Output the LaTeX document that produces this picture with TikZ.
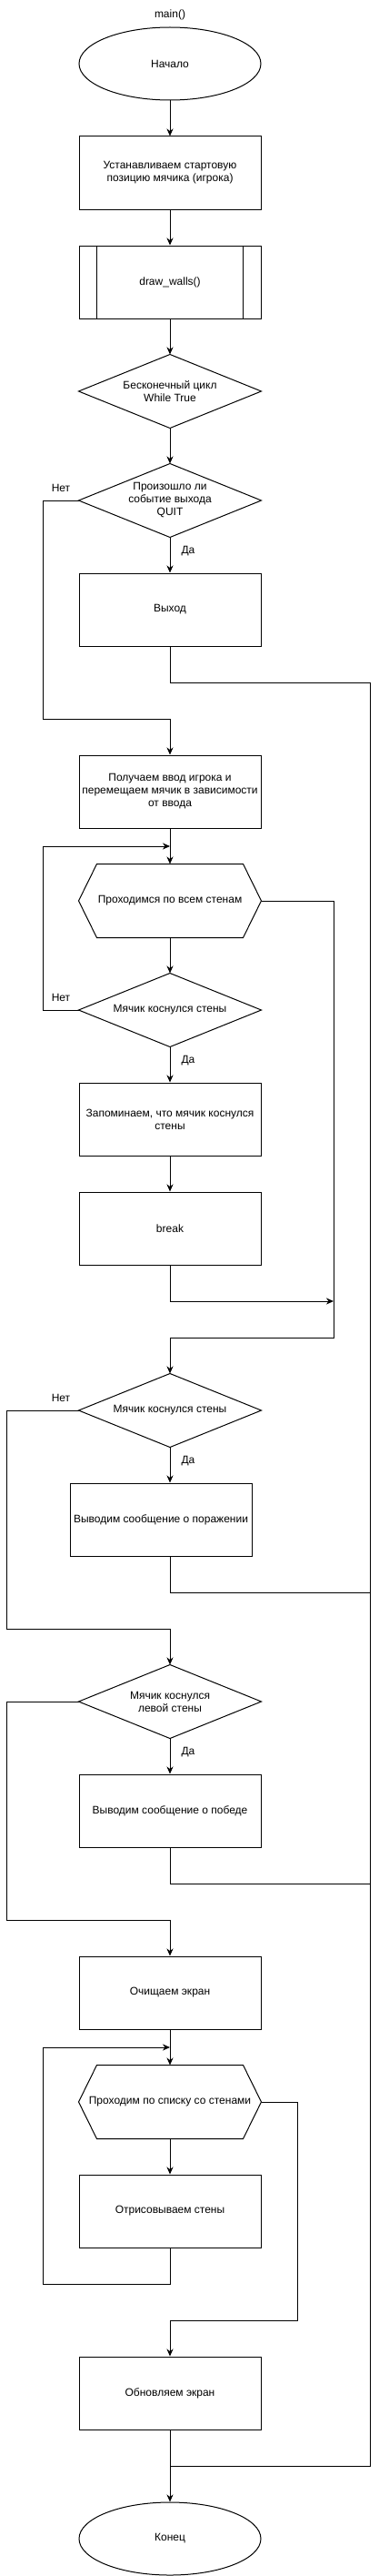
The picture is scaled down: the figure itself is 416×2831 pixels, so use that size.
\documentclass[tikz,border=0pt]{standalone}
\usepackage{fontspec}
\setmainfont{Liberation Sans}
\usetikzlibrary{shapes.geometric,arrows.meta}
\begin{document}
\begin{tikzpicture}[x=1pt,y=-1pt,line width=1pt,
  every node/.style={font=\fontsize{12}{14}\selectfont, align=center, inner sep=0pt},
  proc/.style={draw, rectangle, minimum width=200pt, minimum height=80pt},
  term/.style={draw, ellipse, minimum width=200pt, minimum height=80pt},
  shapebox/.style={rectangle, minimum width=200pt, minimum height=80pt},
  lbl/.style={font=\fontsize{12}{14}\selectfont},
  arr/.style={-{Stealth[length=8pt,width=7pt,inset=2.5pt]}}]
\useasboundingbox (0,0) rectangle (416,2831);

% nodes
\node (title) at (187,16) {main()};
\node[term] (start) at (187,70) {Начало};
\node[proc] (b1) at (187,190) {Устанавливаем стартовую\\позицию мячика (игрока)};
\node[proc] (dw) at (187,310) {draw\_walls()};
\node[shapebox] (d1) at (187,430) {Бесконечный цикл\\While True};
\node[shapebox] (d2) at (187,550) {Произошло ли\\событие выхода\\QUIT};
\node[proc] (exit) at (187,670) {Выход};
\node[proc] (b3) at (187,870) {Получаем ввод игрока и\\перемещаем мячик в зависимости\\от ввода};
\node[shapebox] (h1) at (187,990) {Проходимся по всем стенам};
\node[shapebox] (d3) at (187,1110) {Мячик коснулся стены};
\node[proc] (b4) at (187,1230) {Запоминаем, что мячик коснулся\\стены};
\node[proc] (brk) at (187,1350) {break};
\node[shapebox] (d4) at (187,1550) {Мячик коснулся стены};
\node[proc] (lose) at (177,1670) {Выводим сообщение о поражении};
\node[shapebox] (d5) at (187,1870) {Мячик коснулся\\левой стены};
\node[proc] (win) at (187,1990) {Выводим сообщение о победе};
\node[proc] (clr) at (187,2190) {Очищаем экран};
\node[shapebox] (h2) at (187,2310) {Проходим по списку со стенами};
\node[proc] (drw) at (187,2430) {Отрисовываем стены};
\node[proc] (upd) at (187,2630) {Обновляем экран};
\node[term] (end) at (187,2790) {Конец};

% shapes
\draw ([xshift=20pt]dw.north west) -- ([xshift=20pt]dw.south west);
\draw ([xshift=-20pt]dw.north east) -- ([xshift=-20pt]dw.south east);
\foreach \n in {d1,d2,d3,d4,d5}
  \draw (\n.north) -- (\n.east) -- (\n.south) -- (\n.west) -- cycle;
\foreach \n in {h1,h2}
  \draw (\n.west) -- ([xshift=20pt]\n.north west) -- ([xshift=-20pt]\n.north east)
        -- (\n.east) -- ([xshift=-20pt]\n.south east) -- ([xshift=20pt]\n.south west) -- cycle;

% labels
\node[lbl] (n1) at (67,536) {Нет};
\node[lbl] (n2) at (67,1096) {Нет};
\node[lbl] (n3) at (67,1536) {Нет};
\node[lbl] (y1) at (207,606) {Да};
\node[lbl] (y2) at (207,1166) {Да};
\node[lbl] (y3) at (207,1606) {Да};
\node[lbl] (y4) at (207,1926) {Да};

% coordinates
\coordinate (c1) at (47,790);
\coordinate (r1) at (407,750);
\coordinate (r2) at (407,2710);
\coordinate (j) at (187,2710);
\coordinate (r3) at (407,1750);
\coordinate (r4) at (407,2070);
\coordinate (l1) at (47,930);
\coordinate (lp1) at (187,930);
\coordinate (m1) at (367,1430);
\coordinate (m2) at (367,1470);
\coordinate (l2) at (7,1790);
\coordinate (l3) at (7,2110);
\coordinate (l4) at (47,2510);
\coordinate (l5) at (47,2250);
\coordinate (lp2) at (187,2250);
\coordinate (m3) at (327,2550);

% connectors
\draw[arr] (start) -- (b1);
\draw[arr] (b1) -- (dw);
\draw[arr] (dw) -- (d1.north);
\draw[arr] (d1.south) -- (d2.north);
\draw[arr] (d2.south) -- (exit);
\draw[arr] (d2.west) -| (c1) -| (b3.north);
\draw (exit.south) |- (r1) -- (r2) -- (j);
\draw[arr] (b3) -- (h1.north);
\draw[arr] (h1.south) -- (d3.north);
\draw[arr] (d3.west) -| (l1) -- (lp1);
\draw[arr] (d3.south) -- (b4);
\draw[arr] (b4) -- (brk);
\draw[arr] (brk.south) |- (m1);
\draw[arr] (h1.east) -| (m2) -| (d4.north);
\draw[arr] (d4.south) -- (d4.south |- lose.north);
\draw (d4.south |- lose.south) |- (r3);
\draw[arr] (d4.west) -| (l2) -| (d5.north);
\draw[arr] (d5.south) -- (win);
\draw (win.south) |- (r4);
\draw[arr] (d5.west) -| (l3) -| (clr.north);
\draw[arr] (clr) -- (h2.north);
\draw[arr] (h2.south) -- (drw);
\draw[arr] (drw.south) |- (l4) -- (l5) -- (lp2);
\draw[arr] (h2.east) -| (m3) -| (upd.north);
\draw[arr] (upd) -- (end);
\end{tikzpicture}
\end{document}
